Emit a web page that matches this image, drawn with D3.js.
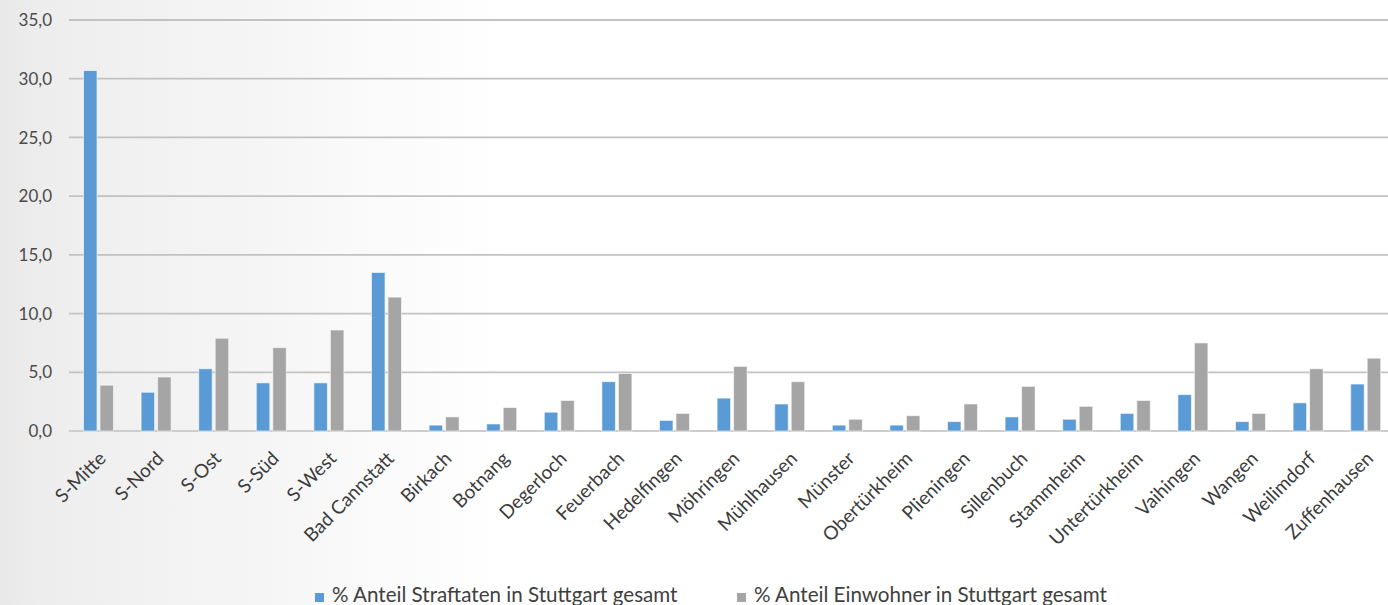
<!DOCTYPE html>
<html>
<head>
<meta charset="utf-8">
<script src="https://cdn.jsdelivr.net/npm/d3@7"></script>
<style>
  html, body { margin: 0; padding: 0; background: #fff; }
  svg { display: block; }
  text { font-family: Lato, "Open Sans", sans-serif; fill: #404040; }
</style>
</head>
<body>
<svg id="chart" width="1388" height="605"></svg>
<script>
// Stadtbezirke Stuttgart
const categories = ["S-Mitte", "S-Nord", "S-Ost", "S-Süd", "S-West", "Bad Cannstatt", "Birkach",
  "Botnang", "Degerloch", "Feuerbach", "Hedelfingen", "Möhringen", "Mühlhausen", "Münster",
  "Obertürkheim", "Plieningen", "Sillenbuch", "Stammheim", "Untertürkheim", "Vaihingen",
  "Wangen", "Weilimdorf", "Zuffenhausen"];

// % Anteil Straftaten in Stuttgart gesamt
const straftaten = [30.7, 3.3, 5.3, 4.1, 4.1, 13.5, 0.5, 0.6, 1.6, 4.2, 0.9, 2.8, 2.3, 0.5,
  0.5, 0.8, 1.2, 1.0, 1.5, 3.1, 0.8, 2.4, 4.0];

// % Anteil Einwohner in Stuttgart gesamt
const einwohner = [3.9, 4.6, 7.9, 7.1, 8.6, 11.4, 1.2, 2.0, 2.6, 4.9, 1.5, 5.5, 4.2, 1.0,
  1.3, 2.3, 3.8, 2.1, 2.6, 7.5, 1.5, 5.3, 6.2];

const seriesNames = ["% Anteil Straftaten in Stuttgart gesamt", "% Anteil Einwohner in Stuttgart gesamt"];
const seriesColors = ["#5b9bd5", "#a5a5a5"];
const yTicks = [0, 5, 10, 15, 20, 25, 30, 35];

const svg = d3.select("#chart");
const W = 1388, H = 605;

// soft grey backdrop fading out towards the right
const defs = svg.append("defs");
const grad = defs.append("linearGradient").attr("id", "bg").attr("x1", 0).attr("x2", 1).attr("y1", 0).attr("y2", 0);
[[0, "#e9e9e9"], [0.04, "#eeeeee"], [0.12, "#f2f2f2"], [0.2, "#f6f6f6"], [0.28, "#fbfbfb"], [0.36, "#ffffff"], [1, "#ffffff"]]
  .forEach(([o, c]) => grad.append("stop").attr("offset", o).attr("stop-color", c));
svg.append("rect").attr("width", W).attr("height", H).attr("fill", "url(#bg)");

const plotLeft = 69, plotRight = 1388;
const step = 57.6;
const y = d3.scaleLinear().domain([0, 35]).range([431, 20]);
const x0 = d3.scaleBand().domain(categories).range([69.7, 69.7 + step * categories.length]).padding(0);
const groupW = 30;
const x1 = d3.scaleBand().domain([0, 1])
  .range([x0.bandwidth() / 2 - groupW / 2, x0.bandwidth() / 2 + groupW / 2])
  .paddingInner(0.18).paddingOuter(0);

// gridlines
svg.append("g").selectAll("line").data(yTicks).join("line")
  .attr("x1", plotLeft).attr("x2", plotRight)
  .attr("y1", d => y(d)).attr("y2", d => y(d))
  .attr("stroke", d => d === 0 ? "#cdcdcd" : "#c2c2c2")
  .attr("stroke-width", 1.8);

// y tick labels
svg.append("g").selectAll("text").data(yTicks).join("text")
  .attr("x", 52).attr("y", d => y(d))
  .attr("dy", "0.36em")
  .attr("text-anchor", "end")
  .style("font-size", "17px")
  .style("fill", "#4a4a4a")
  .text(d => d3.format(".1f")(d).replace(".", ","));

// bars
const groups = svg.append("g").selectAll("g").data(categories).join("g")
  .attr("transform", d => `translate(${x0(d)},0)`);
groups.selectAll("rect")
  .data((d, i) => [straftaten[i], einwohner[i]].map((v, s) => ({ v, s })))
  .join("rect")
  .attr("x", d => x1(d.s))
  .attr("width", x1.bandwidth())
  .attr("y", d => y(d.v))
  .attr("height", d => y(0) - y(d.v))
  .attr("fill", d => seriesColors[d.s])
  .attr("stroke", "#ffffff")
  .attr("stroke-opacity", 0.6)
  .attr("stroke-width", 1);

// category labels, rotated
svg.append("g").selectAll("text").data(categories).join("text")
  .attr("transform", d => `translate(${x0(d) + x0.bandwidth() / 2 + 4},${455}) rotate(-45)`)
  .attr("text-anchor", "end")
  .attr("dy", "0.35em")
  .style("font-size", "19px")
  .style("fill", "#3c3c3c")
  .text(d => d);

// legend
const legendItems = [{ x: 315, s: 0 }, { x: 737, s: 1 }];
const lg = svg.append("g").selectAll("g").data(legendItems).join("g")
  .attr("transform", d => `translate(${d.x},593)`);
lg.append("rect").attr("width", 9).attr("height", 9).attr("fill", d => seriesColors[d.s]);
lg.append("text").attr("x", 17).attr("y", 9)
  .style("font-size", "20.6px").style("fill", "#404040")
  .text(d => seriesNames[d.s]);
</script>
</body>
</html>
